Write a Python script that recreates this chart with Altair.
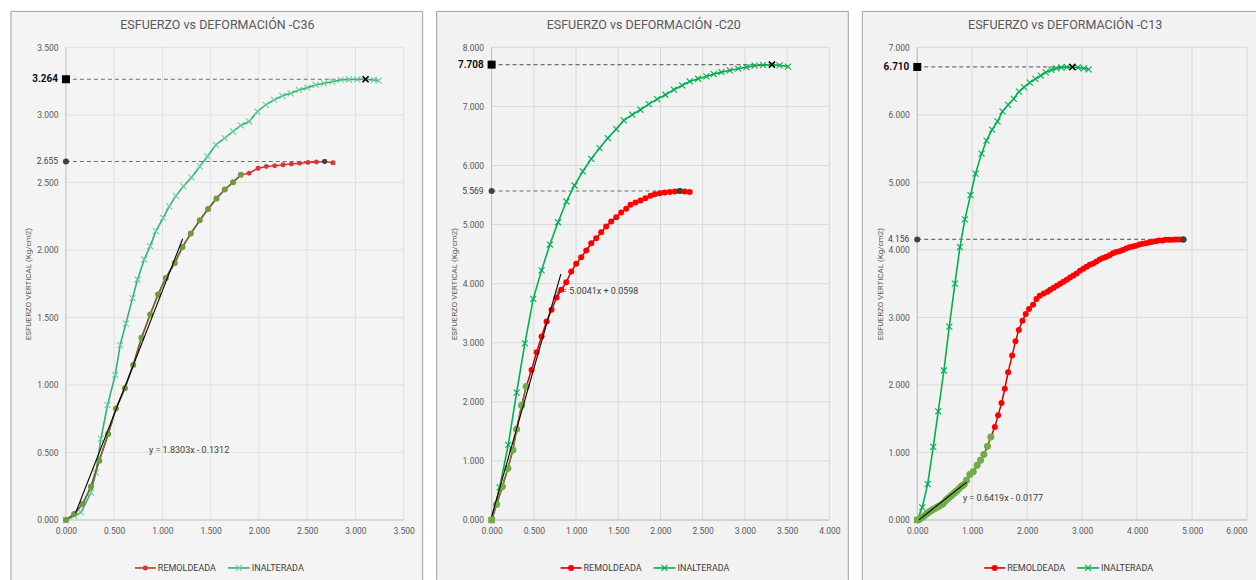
import altair as alt
import pandas as pd

FONT = "Roboto"

# ---------------- C36 ----------------
c36_rem_x = [0.000, 0.086, 0.172, 0.259, 0.345, 0.438, 0.518, 0.611, 0.697, 0.783, 0.873, 0.955,
             1.035, 1.128, 1.208, 1.294, 1.387, 1.473, 1.560, 1.646, 1.732, 1.812,
             1.898, 1.991, 2.077, 2.164, 2.250, 2.336, 2.422, 2.508, 2.595, 2.681, 2.767]
c36_rem_y = [0.000, 0.045, 0.118, 0.246, 0.438, 0.636, 0.825, 0.975, 1.148, 1.350, 1.522, 1.670,
             1.793, 1.904, 2.022, 2.121, 2.220, 2.303, 2.380, 2.447, 2.501, 2.556,
             2.568, 2.605, 2.617, 2.624, 2.630, 2.636, 2.641, 2.648, 2.652, 2.655, 2.646]
c36_olive_n = 22
c36_in_x = [0.000, 0.086, 0.155, 0.259, 0.310, 0.362, 0.431, 0.511, 0.562, 0.621, 0.690, 0.742,
            0.811, 0.873, 0.932, 1.008, 1.070, 1.139, 1.218, 1.301, 1.387, 1.467, 1.553, 1.646,
            1.732, 1.812, 1.898, 1.984, 2.070, 2.157, 2.243, 2.329, 2.415, 2.502, 2.588, 2.674,
            2.760, 2.847, 2.933, 3.019, 3.105, 3.190, 3.240]
c36_in_y = [0.000, 0.030, 0.056, 0.203, 0.350, 0.600, 0.850, 1.075, 1.295, 1.455, 1.643, 1.781,
            1.929, 2.028, 2.139, 2.237, 2.323, 2.400, 2.471, 2.537, 2.618, 2.692, 2.778, 2.828,
            2.877, 2.922, 2.951, 3.025, 3.074, 3.111, 3.141, 3.160, 3.185, 3.202, 3.222, 3.234,
            3.246, 3.259, 3.262, 3.263, 3.264, 3.259, 3.254]
c36_peak_rem, c36_peak_rem_x = 2.655, 2.681
c36_peak_in, c36_peak_in_x = 3.264, 3.105
c36_trend_x = [0.10, 1.21]
c36_trend_y = [0.052, 2.083]
c36_eq = "y = 1.8303x - 0.1312"
c36_x_ticks = [0.0, 0.5, 1.0, 1.5, 2.0, 2.5, 3.0, 3.5]
c36_y_ticks = [0.0, 0.5, 1.0, 1.5, 2.0, 2.5, 3.0, 3.5]

# ---------------- C20 ----------------
c20_rem_x = [0.000, 0.059, 0.127, 0.193, 0.252, 0.296, 0.355, 0.410,
             0.473, 0.533, 0.592, 0.651, 0.710, 0.769, 0.825, 0.884, 0.943, 1.002, 1.061, 1.121,
             1.180, 1.239, 1.298, 1.357, 1.416, 1.476, 1.535, 1.594, 1.645, 1.704, 1.763, 1.822,
             1.882, 1.933, 1.992, 2.051, 2.110, 2.169, 2.228, 2.287, 2.346]
c20_rem_y = [0.000, 0.264, 0.564, 0.874, 1.186, 1.535, 1.936, 2.258,
             2.540, 2.839, 3.105, 3.359, 3.557, 3.765, 3.896, 4.024, 4.206, 4.336, 4.448, 4.561,
             4.685, 4.770, 4.871, 4.968, 5.052, 5.125, 5.205, 5.268, 5.335, 5.374, 5.408, 5.447,
             5.487, 5.515, 5.532, 5.544, 5.552, 5.560, 5.569, 5.560, 5.552]
c20_olive_n = 8
c20_in_x = [0.000, 0.095, 0.197, 0.296, 0.394, 0.493, 0.592, 0.690, 0.787, 0.886, 0.982, 1.080,
            1.180, 1.278, 1.376, 1.476, 1.565, 1.665, 1.763, 1.862, 1.961, 2.059, 2.158, 2.257,
            2.346, 2.446, 2.544, 2.631, 2.722, 2.820, 2.920, 3.018, 3.116, 3.215, 3.320, 3.410, 3.510]
c20_in_y = [0.000, 0.552, 1.270, 2.156, 2.991, 3.743, 4.226, 4.663, 5.040, 5.391, 5.662, 5.900,
            6.114, 6.294, 6.464, 6.616, 6.763, 6.860, 6.944, 7.039, 7.124, 7.198, 7.283, 7.356,
            7.424, 7.469, 7.508, 7.547, 7.581, 7.610, 7.639, 7.666, 7.690, 7.700, 7.708, 7.696, 7.674]
c20_peak_rem, c20_peak_rem_x = 5.569, 2.228
c20_peak_in, c20_peak_in_x = 7.708, 3.320
c20_trend_x = [0.00, 0.82]
c20_trend_y = [0.060, 4.163]
c20_eq = "y = 5.0041x + 0.0598"
c20_x_ticks = [0.0, 0.5, 1.0, 1.5, 2.0, 2.5, 3.0, 3.5, 4.0]
c20_y_ticks = [0.0, 1.0, 2.0, 3.0, 4.0, 5.0, 6.0, 7.0, 8.0]

# ---------------- C13 ----------------
c13_rem_x = [0.000, 0.040, 0.080, 0.125, 0.170, 0.210, 0.249, 0.285, 0.321, 0.360, 0.400, 0.437,
             0.473, 0.515, 0.548, 0.581, 0.612, 0.642, 0.680, 0.715, 0.755, 0.794, 0.824, 0.854,
             0.897, 0.957, 1.018, 1.090, 1.151, 1.211, 1.278, 1.339,
             1.411, 1.471, 1.533, 1.593, 1.653, 1.726, 1.787, 1.847, 1.914, 1.974, 2.034, 2.107,
             2.168, 2.229, 2.301, 2.368, 2.420, 2.480, 2.540, 2.600, 2.660, 2.720, 2.780, 2.840,
             2.900, 2.960, 3.020, 3.080, 3.140, 3.200, 3.260, 3.320, 3.380, 3.440, 3.500, 3.560,
             3.620, 3.680, 3.740, 3.800, 3.860, 3.920, 3.980, 4.040, 4.100, 4.160, 4.220, 4.280,
             4.340, 4.400, 4.460, 4.520, 4.580, 4.640, 4.700, 4.760, 4.820, 4.844]
c13_rem_y = [0.000, 0.012, 0.034, 0.060, 0.089, 0.113, 0.138, 0.155, 0.172, 0.190, 0.207, 0.226,
             0.246, 0.285, 0.310, 0.335, 0.357, 0.379, 0.403, 0.428, 0.460, 0.492, 0.511, 0.531,
             0.590, 0.674, 0.713, 0.812, 0.885, 0.969, 1.092, 1.229,
             1.377, 1.550, 1.731, 1.944, 2.189, 2.435, 2.646, 2.814, 2.952, 3.050, 3.124, 3.188,
             3.272, 3.321, 3.355, 3.380, 3.410, 3.440, 3.470, 3.500, 3.530, 3.560, 3.590, 3.620,
             3.650, 3.690, 3.720, 3.750, 3.780, 3.800, 3.830, 3.860, 3.880, 3.900, 3.920, 3.950,
             3.970, 3.980, 4.000, 4.020, 4.040, 4.050, 4.060, 4.080, 4.090, 4.100, 4.110, 4.120,
             4.130, 4.140, 4.140, 4.150, 4.150, 4.150, 4.155, 4.156, 4.156, 4.156]
c13_olive_n = 32
c13_in_x = [0.000, 0.091, 0.189, 0.291, 0.382, 0.485, 0.582, 0.685, 0.776, 0.866, 0.969, 1.060,
            1.170, 1.260, 1.362, 1.460, 1.551, 1.653, 1.756, 1.852, 1.943, 2.047, 2.150, 2.247,
            2.337, 2.441, 2.532, 2.622, 2.724, 2.822, 2.924, 3.028, 3.118]
c13_in_y = [0.000, 0.187, 0.531, 1.082, 1.609, 2.214, 2.863, 3.502, 4.040, 4.452, 4.811, 5.131,
            5.426, 5.618, 5.781, 5.903, 6.051, 6.149, 6.238, 6.346, 6.410, 6.479, 6.533, 6.582,
            6.631, 6.666, 6.690, 6.704, 6.708, 6.710, 6.704, 6.690, 6.675]
c13_peak_rem, c13_peak_rem_x = 4.156, 4.844
c13_peak_in, c13_peak_in_x = 6.710, 2.822
c13_trend_x = [0.03, 0.90]
c13_trend_y = [0.002, 0.560]
c13_eq = "y = 0.6419x - 0.0177"
c13_x_ticks = [0.0, 1.0, 2.0, 3.0, 4.0, 5.0, 6.0]
c13_y_ticks = [0.0, 1.0, 2.0, 3.0, 4.0, 5.0, 6.0, 7.0]

X_TITLE = "DEFORMACION VERTICAL (cm)"
Y_TITLE = "ESFUERZO VERTICAL (Kg/cm2)"
LEG_REM = "REMOLDEADA"
LEG_IN = "INALTERADA"

XMARK = "M-1,-1L1,1M-1,1L1,-1"
H = 473
ONE = pd.DataFrame({"k": [0]})
GRAY = "#595959"


def panel(title, title_cx, W, right_ext, right_edge, x_ticks, y_ticks,
          rem_x, rem_y, olive_n, in_x, in_y, pr, prx, pi, pix,
          tx, ty, eq, eq_x, eq_y, col, sz, leg_shift, last_right):
    xs = alt.Scale(domain=[x_ticks[0], x_ticks[-1]], nice=False, zero=True)
    ys = alt.Scale(domain=[y_ticks[0], y_ticks[-1]], nice=False, zero=True)
    label_align = {"expr": "datum.value == %s ? 'right' : 'center'" % x_ticks[-1]} if last_right else "center"
    xax = alt.Axis(values=x_ticks, format=".3f", title=X_TITLE, grid=False, ticks=False, domain=False,
                   labelPadding=7, labelFont=FONT, labelFontSize=8.5, labelColor=GRAY,
                   labelOverlap=False, labelAlign=label_align,
                   titleFont=FONT, titleFontSize=8.5, titleFontWeight="normal", titleColor=GRAY,
                   titleY=H + 26, titleBaseline="middle", zindex=1)
    yax = alt.Axis(values=y_ticks, format=".3f", title=Y_TITLE, grid=False, ticks=False, domain=False,
                   labelPadding=8, labelFont=FONT, labelFontSize=8.5, labelColor=GRAY,
                   labelOverlap=False,
                   titleFont=FONT, titleFontSize=8, titleFontWeight="normal", titleColor=GRAY,
                   titleX=-37, titleY=H / 2, titleBaseline="middle", titleAngle=270, zindex=1)

    def X(f):
        return alt.X(f, type="quantitative", scale=xs, axis=xax)

    def Y(f):
        return alt.Y(f, type="quantitative", scale=ys, axis=yax)

    rem = pd.DataFrame({"x": rem_x, "y": rem_y, "i": list(range(len(rem_x)))})
    olive = rem.iloc[:olive_n]
    ina = pd.DataFrame({"x": in_x, "y": in_y, "i": list(range(len(in_x)))})
    dash = pd.DataFrame({"x": [0.0, 0.0], "x2": [pix, prx], "y": [pi, pr]})
    trend = pd.DataFrame({"x": tx, "y": ty})
    xt = pd.DataFrame({"v": x_ticks})
    yt = pd.DataFrame({"v": y_ticks})

    layers = []
    # frame
    layers.append(alt.Chart(ONE).mark_rect(fill=col["bg"], strokeWidth=0).encode(
        x=alt.value(-55), x2=alt.value(W + right_ext), y=alt.value(-36), y2=alt.value(H + 60)))
    layers.append(alt.Chart(ONE).mark_rule(color="#a0a0a0", strokeWidth=1).encode(
        x=alt.value(-55), y=alt.value(-36), y2=alt.value(H + 60)))
    layers.append(alt.Chart(ONE).mark_rule(color="#a0a0a0", strokeWidth=1).encode(
        x=alt.value(-55), x2=alt.value(W + right_ext), y=alt.value(-36)))
    if right_edge:
        layers.append(alt.Chart(ONE).mark_rule(color="#a0a0a0", strokeWidth=1).encode(
            x=alt.value(W + right_ext), y=alt.value(-36), y2=alt.value(H + 60)))
    # grid
    layers.append(alt.Chart(xt).mark_rule(color=col["grid"], strokeWidth=1).encode(
        x=X("v"), y=alt.value(0), y2=alt.value(H)))
    layers.append(alt.Chart(yt).mark_rule(color=col["grid"], strokeWidth=1).encode(
        y=Y("v"), x=alt.value(0), x2=alt.value(W)))
    # axis lines
    layers.append(alt.Chart(ONE).mark_rule(color=col["axis"], strokeWidth=1).encode(
        x=alt.value(0), x2=alt.value(W), y=alt.value(H)))
    layers.append(alt.Chart(ONE).mark_rule(color=col["axis"], strokeWidth=1).encode(
        x=alt.value(0), y=alt.value(0), y2=alt.value(H)))
    # dashed peak lines
    layers.append(alt.Chart(dash).mark_rule(color="#6e6e6e", strokeDash=[4, 3], strokeWidth=1.2).encode(
        x=X("x"), x2="x2", y=Y("y")))
    # inalterada
    layers.append(alt.Chart(ina).mark_line(color=col["in_line"], strokeWidth=1.6).encode(
        x=X("x"), y=Y("y"), order="i:Q"))
    layers.append(alt.Chart(ina).mark_point(shape=XMARK, filled=False, color=col["in_mark"],
                                            strokeWidth=1.1, size=sz["xm"], opacity=1).encode(
        x=X("x"), y=Y("y")))
    # remoldeada
    layers.append(alt.Chart(rem).mark_line(color=col["rem_line"], strokeWidth=1.5).encode(
        x=X("x"), y=Y("y"), order="i:Q"))
    layers.append(alt.Chart(rem).mark_point(shape="circle", filled=True, color=col["rem_mark"],
                                            size=sz["rem"], opacity=1).encode(
        x=X("x"), y=Y("y")))
    layers.append(alt.Chart(olive).mark_line(color=col["olive_line"], strokeWidth=1.5).encode(
        x=X("x"), y=Y("y"), order="i:Q"))
    layers.append(alt.Chart(olive).mark_point(shape="circle", filled=True, color=col["olive"],
                                              size=sz["olive"], opacity=1).encode(
        x=X("x"), y=Y("y")))
    # trend line
    layers.append(alt.Chart(trend).mark_line(color="#000000", strokeWidth=1.1).encode(
        x=X("x"), y=Y("y")))
    # peak markers
    pk_rem = pd.DataFrame({"x": [prx], "y": [pr]})
    pk_in = pd.DataFrame({"x": [pix], "y": [pi]})
    left_rem = pd.DataFrame({"x": [0.0], "y": [pr]})
    left_in = pd.DataFrame({"x": [0.0], "y": [pi]})
    layers.append(alt.Chart(pk_rem).mark_point(shape="circle", filled=True, color="#404040",
                                               size=sz["rem"], opacity=1).encode(x=X("x"), y=Y("y")))
    layers.append(alt.Chart(pk_in).mark_point(shape=XMARK, filled=False, color="#000000",
                                              strokeWidth=1.6, size=sz["xm"], opacity=1).encode(x=X("x"), y=Y("y")))
    layers.append(alt.Chart(left_rem).mark_point(shape="circle", filled=True, color="#404040",
                                                 size=36, opacity=1).encode(x=X("x"), y=Y("y")))
    layers.append(alt.Chart(left_in).mark_point(shape="square", filled=True, color="#000000",
                                                size=64, opacity=1).encode(x=X("x"), y=Y("y")))
    layers.append(alt.Chart(left_in).mark_text(align="right", baseline="middle", dx=-8, font=FONT,
                                               fontSize=10, fontWeight=600, color="#000000").encode(
        x=X("x"), y=Y("y"), text=alt.Text("y:Q", format=".3f")))
    layers.append(alt.Chart(left_rem).mark_text(align="right", baseline="middle", dx=-8, font=FONT,
                                                fontSize=8.5, color="#404040").encode(
        x=X("x"), y=Y("y"), text=alt.Text("y:Q", format=".3f")))
    # equation
    eqdf = pd.DataFrame({"x": [eq_x], "y": [eq_y], "t": [eq]})
    layers.append(alt.Chart(eqdf).mark_text(align="left", baseline="middle", font=FONT,
                                            fontSize=9, color="#404040").encode(
        x=X("x"), y=Y("y"), text="t:N"))
    # title
    tdf = pd.DataFrame({"t": [title]})
    layers.append(alt.Chart(tdf).mark_text(align="center", baseline="middle", font=FONT,
                                           fontSize=12.5, color=GRAY).encode(
        x=alt.value(title_cx), y=alt.value(-22), text="t:N"))
    # legend
    ly = H + 48
    s = leg_shift
    legdf_r = pd.DataFrame({"t": [LEG_REM]})
    legdf_i = pd.DataFrame({"t": [LEG_IN]})
    layers.append(alt.Chart(ONE).mark_rule(color=col["rem_line"], strokeWidth=1.6).encode(
        x=alt.value(69 + s), x2=alt.value(90 + s), y=alt.value(ly)))
    layers.append(alt.Chart(ONE).mark_point(shape="circle", filled=True, color=col["rem_mark"],
                                            size=sz["rem"], opacity=1).encode(
        x=alt.value(79.5 + s), y=alt.value(ly)))
    layers.append(alt.Chart(legdf_r).mark_text(align="left", baseline="middle", font=FONT,
                                               fontSize=9, color="#404040").encode(
        x=alt.value(92 + s), y=alt.value(ly), text="t:N"))
    layers.append(alt.Chart(ONE).mark_rule(color=col["in_line"], strokeWidth=1.6).encode(
        x=alt.value(162 + s), x2=alt.value(184 + s), y=alt.value(ly)))
    layers.append(alt.Chart(ONE).mark_point(shape=XMARK, filled=False, color=col["in_mark"],
                                            strokeWidth=1.1, size=sz["xm"], opacity=1).encode(
        x=alt.value(173 + s), y=alt.value(ly)))
    layers.append(alt.Chart(legdf_i).mark_text(align="left", baseline="middle", font=FONT,
                                               fontSize=9, color="#404040").encode(
        x=alt.value(186 + s), y=alt.value(ly), text="t:N"))

    return alt.layer(*layers).properties(width=W, height=H)


col1 = {"bg": "#f4f4f4", "grid": "#e0e0e0", "axis": "#c8c8c8", "in_line": "#2fb27a", "in_mark": "#6fcf97",
        "rem_line": "#c0392b", "rem_mark": "#d9363e", "olive": "#6e9b3f", "olive_line": "#6b6b35"}
col2 = {"bg": "#f2f2f2", "grid": "#d9d9d9", "axis": "#bfbfbf", "in_line": "#00b050", "in_mark": "#00b050",
        "rem_line": "#d00000", "rem_mark": "#ff0000", "olive": "#70ad47", "olive_line": "#7f7f2f"}
sz1 = {"rem": 25, "olive": 36, "xm": 36}
sz2 = {"rem": 36, "olive": 49, "xm": 36}

p1 = panel("ESFUERZO vs DEFORMACIÓN -C36", 151.5, 338, 19, True, c36_x_ticks, c36_y_ticks,
           c36_rem_x, c36_rem_y, c36_olive_n, c36_in_x, c36_in_y,
           c36_peak_rem, c36_peak_rem_x, c36_peak_in, c36_peak_in_x,
           c36_trend_x, c36_trend_y, c36_eq, 0.86, 0.52, col1, sz1, 0, False)
p2 = panel("ESFUERZO vs DEFORMACIÓN -C20", 152.3, 338, 19, True, c20_x_ticks, c20_y_ticks,
           c20_rem_x, c20_rem_y, c20_olive_n, c20_in_x, c20_in_y,
           c20_peak_rem, c20_peak_rem_x, c20_peak_in, c20_peak_in_x,
           c20_trend_x, c20_trend_y, c20_eq, 0.757, 3.884, col2, sz2, 0, False)
p3 = panel("ESFUERZO vs DEFORMACIÓN -C13", 148, 330, 9, False, c13_x_ticks, c13_y_ticks,
           c13_rem_x, c13_rem_y, c13_olive_n, c13_in_x, c13_in_y,
           c13_peak_rem, c13_peak_rem_x, c13_peak_in, c13_peak_in_x,
           c13_trend_x, c13_trend_y, c13_eq, 0.83, 0.325, col2, sz2, -2, True)

chart = alt.hconcat(p1, p2, p3, spacing=88, bounds="flush").properties(
    padding={"left": 10, "top": 10, "right": 0, "bottom": 0},
    background="#ffffff",
).configure_view(stroke=None)

chart.save("out.html", embed_options={"renderer": "svg", "actions": False})
